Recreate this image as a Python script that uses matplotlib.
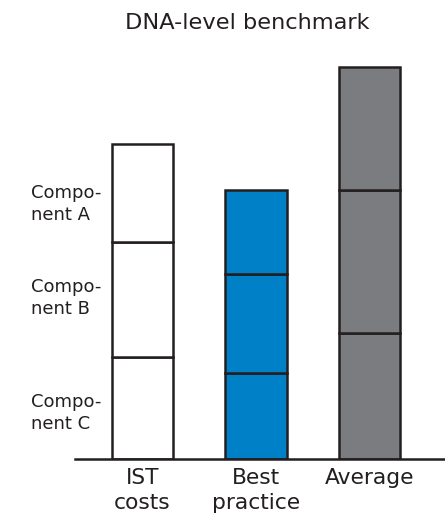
import matplotlib
matplotlib.use("Agg")
import matplotlib.pyplot as plt
import matplotlib.transforms as mtransforms

# Stacked cost components per benchmark (relative units)
categories = ["IST\ncosts", "Best\npractice", "Average"]
component_c = [102, 86, 126]
component_b = [115, 99, 143]
component_a = [98, 84, 123]
bar_colors = ["#FFFFFF", "#0080C6", "#7B7C80"]
component_labels = ["Compo-\nnent A", "Compo-\nnent B", "Compo-\nnent C"]
label_levels = [255, 161, 46]

ink = "#231F20"

fig = plt.figure(figsize=(4.45, 5.18), dpi=100)
W, H = 445, 518
ax = fig.add_axes([75 / W, (H - 459) / H, 370 / W, (459 - 40) / H])

x = list(range(len(categories)))
width = 0.54
bottom = [0] * len(categories)
for seg in (component_c, component_b, component_a):
    ax.bar(x, seg, width=width, bottom=bottom, color=bar_colors,
           edgecolor=ink, linewidth=1.8, zorder=2)
    bottom = [b + s for b, s in zip(bottom, seg)]

ax.set_xlim(-0.595, 2.665)
ax.set_ylim(0, 419)

for s in ("top", "right", "left"):
    ax.spines[s].set_visible(False)
ax.spines["bottom"].set_linewidth(1.8)
ax.spines["bottom"].set_color(ink)
ax.spines["bottom"].set_zorder(3)

ax.set_yticks([])
ax.set_xticks(x)
ax.set_xticklabels(categories, fontsize=15.7, color=ink, linespacing=1.28)
ax.tick_params(axis="x", length=0, pad=6.5)

trans = mtransforms.blended_transform_factory(ax.transAxes, ax.transData)
for lab, lvl in zip(component_labels, label_levels):
    ax.text(-0.119, lvl, lab, transform=trans, ha="left", va="center",
            fontsize=13, color=ink, linespacing=1.28)

fig.text(247.5 / W, 1 - 29 / H, "DNA-level benchmark", ha="center",
         va="baseline", fontsize=16.2, color=ink)

fig.savefig("out.png", dpi=100)
